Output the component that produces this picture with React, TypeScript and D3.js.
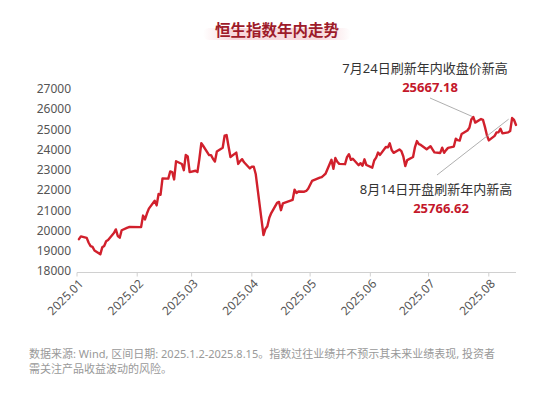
import * as d3 from 'd3';

// HSI daily closes, 2025
const janDays = [2, 3, 6, 7, 8, 9, 10, 13, 14, 15, 16, 17, 20, 21, 22, 23, 24, 27, 28];
const janClose = [19623, 19760, 19688, 19447, 19280, 19240, 19064, 18874, 19219, 19286, 19523, 19584, 19926, 20106, 19779, 19700, 20066, 20198, 20225];
const febDays = [3, 4, 5, 6, 7, 10, 11, 12, 13, 14, 17, 18, 19, 20, 21, 24, 25, 26, 27, 28];
const febClose = [20217, 20790, 20597, 20892, 21133, 21521, 21294, 21857, 21814, 22620, 22616, 22976, 22944, 22576, 23477, 23341, 23035, 23787, 23718, 22941];
const marDays = [3, 4, 5, 6, 7, 10, 11, 12, 13, 14, 17, 18, 19, 20, 21, 24, 25, 26, 27, 28, 31];
const marClose = [23006, 22941, 23595, 24370, 24231, 23783, 23782, 23600, 23462, 23959, 24145, 24740, 24771, 24219, 23689, 23905, 23344, 23483, 23579, 23426, 23119];
const aprDays = [1, 2, 3, 7, 8, 9, 10, 11, 14, 15, 16, 17, 22, 23, 24, 25, 28, 29, 30];
const aprClose = [23206, 23202, 22849, 19828, 20127, 20264, 20681, 20915, 21417, 21466, 21057, 21395, 21562, 22072, 21909, 21980, 21972, 22008, 22119];
const mayDays = [2, 6, 7, 8, 9, 12, 13, 14, 15, 16, 19, 20, 21, 22, 23, 26, 27, 28, 29, 30];
const mayClose = [22504, 22662, 22691, 22775, 22868, 23549, 23108, 23640, 23453, 23345, 23332, 23681, 23827, 23544, 23601, 23282, 23381, 23258, 23573, 23290];
const junDays = [2, 3, 4, 5, 6, 9, 10, 11, 12, 13, 16, 17, 18, 19, 20, 23, 24, 25, 26, 27, 30];
const junClose = [23158, 23512, 23654, 23907, 23792, 24181, 24162, 24367, 24035, 23892, 24060, 23980, 23711, 23237, 23530, 23689, 24177, 24474, 24325, 24284, 24072];
const julDays = [2, 3, 4, 7, 8, 9, 10, 11, 14, 15, 16, 17, 18, 21, 22, 23, 24, 25, 28, 29, 30, 31];
const julClose = [24221, 24069, 23916, 23887, 24148, 23892, 24028, 24139, 24203, 24590, 24518, 24498, 24826, 24994, 25130, 25538, 25667, 25388, 25562, 25524, 25177, 24773];
const augDays = [1, 4, 5, 6, 7, 8, 11, 12, 13, 14, 15];
const augClose = [24507, 24733, 24902, 24910, 25081, 24858, 24907, 24969, 25613, 25519, 25270];

const yTicks = [18000, 19000, 20000, 21000, 22000, 23000, 24000, 25000, 26000, 27000];
const xTickLabels = ['2025.01', '2025.02', '2025.03', '2025.04', '2025.05', '2025.06', '2025.07', '2025.08'];

const title = '恒生指数年内走势';
const note1 = { text: '7月24日刷新年内收盘价新高', value: '25667.18', date: new Date(2025, 6, 24), level: 25667.18 };
const note2 = { text: '8月14日开盘刷新年内新高', value: '25766.62', date: new Date(2025, 7, 14), level: 25766.62 };
const footer = [
  '数据来源: Wind, 区间日期: 2025.1.2-2025.8.15。指数过往业绩并不预示其未来业绩表现, 投资者',
  '需关注产品收益波动的风险。',
];

const months: [number[], number[]][] = [
  [janDays, janClose], [febDays, febClose], [marDays, marClose], [aprDays, aprClose],
  [mayDays, mayClose], [junDays, junClose], [julDays, julClose], [augDays, augClose],
];
const series = months.flatMap(([days, close], m) =>
  days.map((d, i) => ({ date: new Date(2025, m, d), v: close[i] })));

const W = 554;
const H = 398;
const FONT = '"Noto Sans", "Noto Sans CJK SC", sans-serif';
const RED = '#d1202c';

export default function App() {
  const x = d3.scaleTime()
    .domain([new Date(2025, 0, 1), new Date(2025, 7, 15)])
    .range([77, 516]);
  const y = d3.scaleLinear().domain([18000, 27000]).range([272, 90]);

  const line = d3.line<{ date: Date; v: number }>()
    .x(d => x(d.date))
    .y(d => y(d.v));

  const monthTicks = xTickLabels.map((_, i) => new Date(2025, i, 1));

  // leader line from the label towards the marked point, stopping a little short
  const leader = (from: [number, number], n: typeof note1, k: number) => {
    const tx = x(n.date), ty = y(n.level);
    return { x1: from[0], y1: from[1], x2: from[0] + (tx - from[0]) * k, y2: from[1] + (ty - from[1]) * k };
  };
  const l1 = leader([430, 98], note1, 0.97);
  const l2 = leader([437, 175], note2, 0.93);

  return (
    <svg width={W} height={H} style={{ position: 'absolute', left: 0, top: 0, background: '#fff' }}
      fontFamily={FONT}>
      <defs>
        <linearGradient id="titleBg" x1="0" x2="1" y1="0" y2="0">
          <stop offset="0" stopColor="#f7d6da" stopOpacity="0" />
          <stop offset="0.2" stopColor="#f7d6da" stopOpacity="0.9" />
          <stop offset="0.8" stopColor="#f7d6da" stopOpacity="0.9" />
          <stop offset="1" stopColor="#f7d6da" stopOpacity="0" />
        </linearGradient>
      </defs>

      {/* title */}
      <rect x={203} y={28} width={148} height={12} rx={6} fill="url(#titleBg)" />
      <text x={277} y={32} textAnchor="middle" dominantBaseline="middle"
        fontSize={15.5} fontWeight={700} fill="#9e1b2a">{title}</text>

      {/* y axis labels */}
      {yTicks.map(t => (
        <text key={t} x={71} y={y(t)} textAnchor="end" dominantBaseline="middle"
          fontSize={12} fill="#555">{t}</text>
      ))}

      {/* x axis */}
      <line x1={x.range()[0]} x2={x.range()[1]} y1={272.5} y2={272.5} stroke="#d0d0d0" strokeWidth={1} />
      {monthTicks.map((d, i) => (
        <g key={i} transform={`translate(${x(d)},272.5)`}>
          <line y2={4} stroke="#d0d0d0" />
          <text transform="translate(7,12) rotate(-45)" textAnchor="end" fontSize={12} fill="#555">
            {xTickLabels[i]}
          </text>
        </g>
      ))}

      {/* series */}
      <path d={line(series) ?? ''} fill="none" stroke={RED} strokeWidth={2.4}
        strokeLinejoin="round" strokeLinecap="round" />

      {/* annotations */}
      <line {...l1} stroke="#9a9a9a" strokeWidth={0.8} />
      <line {...l2} stroke="#9a9a9a" strokeWidth={0.8} />
      <text x={425} y={70} textAnchor="middle" dominantBaseline="middle" fontSize={13} fill="#333">{note1.text}</text>
      <text x={430} y={88} textAnchor="middle" dominantBaseline="middle" fontSize={13} fontWeight={700} fill="#c4172b">{note1.value}</text>
      <text x={436} y={191} textAnchor="middle" dominantBaseline="middle" fontSize={13} fill="#333">{note2.text}</text>
      <text x={441} y={209} textAnchor="middle" dominantBaseline="middle" fontSize={13} fontWeight={700} fill="#c4172b">{note2.value}</text>

      {/* footer */}
      {footer.map((f, i) => (
        <text key={i} x={29} y={355 + i * 15} dominantBaseline="middle" fontSize={11} fill="#999">{f}</text>
      ))}
    </svg>
  );
}
